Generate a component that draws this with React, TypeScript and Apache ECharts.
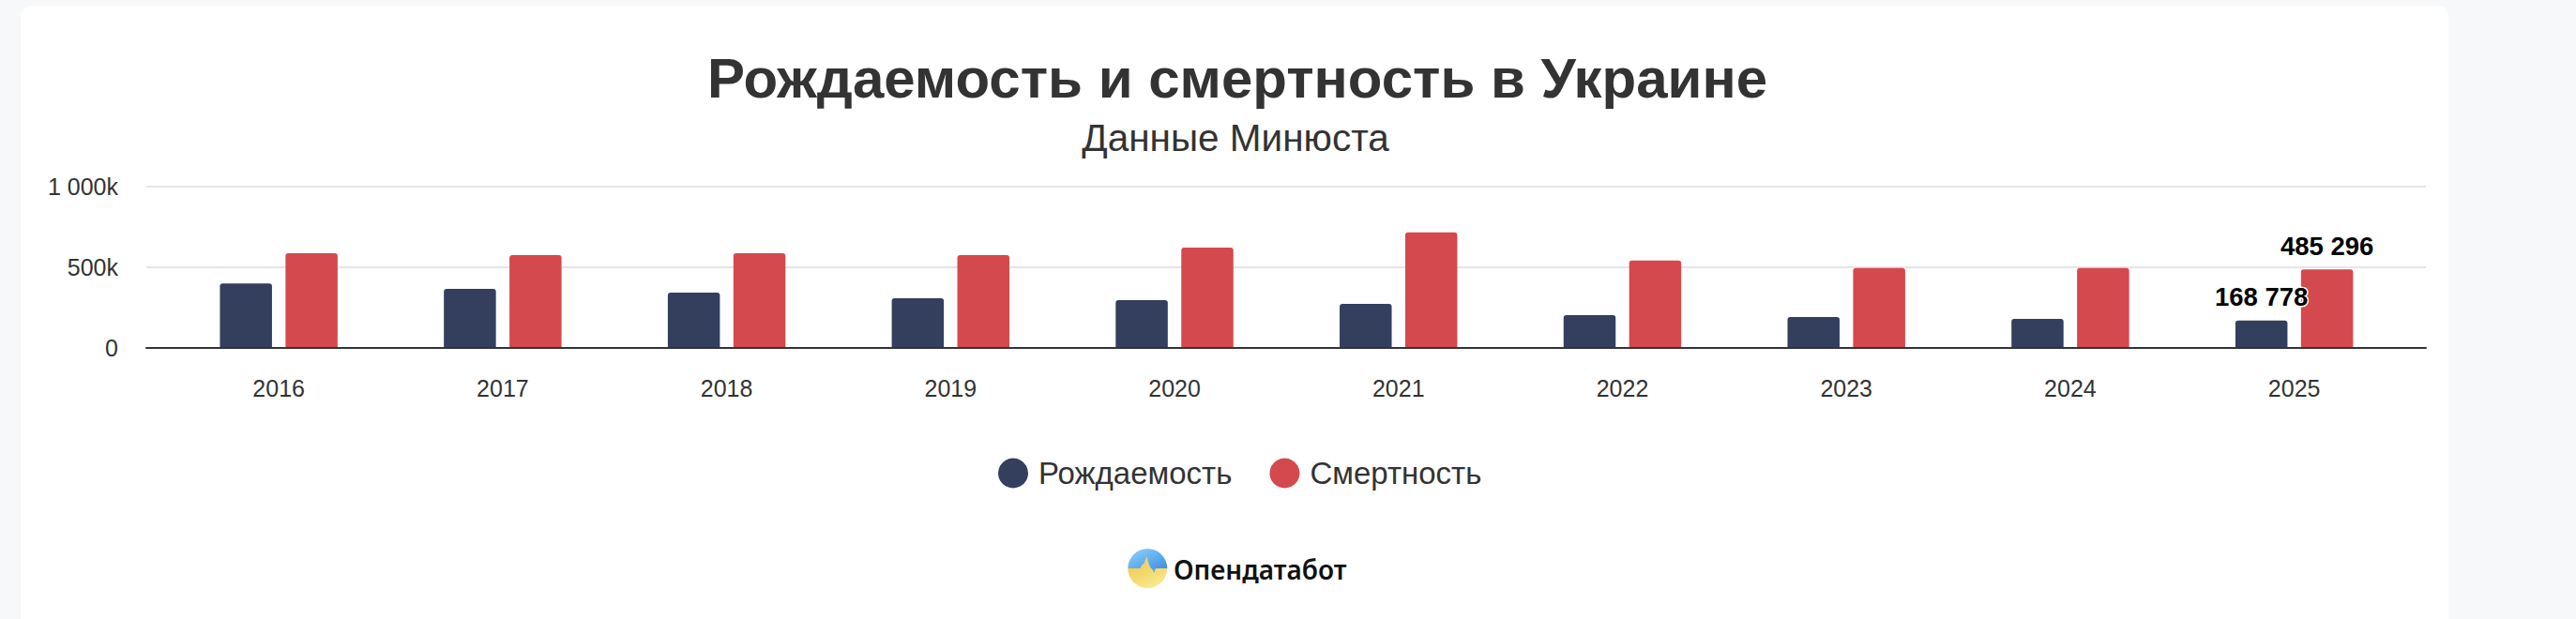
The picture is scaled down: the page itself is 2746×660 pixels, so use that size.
import React, { useEffect, useRef } from 'react';
import * as echarts from 'echarts';

const categories = ['2016', '2017', '2018', '2019', '2020', '2021', '2022', '2023', '2024', '2025'];
const births = [398000, 365000, 342000, 307000, 295000, 272000, 202000, 190000, 179000, 168778];
const deaths = [586000, 575000, 586000, 575000, 621000, 716000, 542000, 495000, 495000, 485296];
const yTickLabels = ['0', '500k', '1 000k'];
const seriesNames = ['Рождаемость', 'Смертность'];
const titleText = 'Рождаемость и смертность в Украине';
const subtitleText = 'Данные Минюста';
const brandText = 'Опендатабот';
const labelledIndex = 9;

const NAVY = '#333f5d';
const RED = '#d4494e';
const FONT = '"Liberation Sans", Arial, Helvetica, sans-serif';

const W = 2746;
const H = 660;

function fmtSpace(v: number): string {
  return String(Math.round(v)).replace(/\B(?=(\d{3})+(?!\d))/g, ' ');
}

function withLabel(arr: number[]) {
  return arr.map((v, i) => (i === labelledIndex ? { value: v, label: { show: true } } : v));
}

export default function App() {
  const ref = useRef<HTMLDivElement>(null);

  useEffect(() => {
    document.body.style.margin = '0';
    if (!ref.current) return;
    const chart = echarts.init(ref.current, undefined, { renderer: 'svg', width: W, height: H });

    const plotTop = 199;
    const plotBottom = H - 370.7;
    const barLabel = {
      show: false,
      position: 'top',
      distance: 11,
      formatter: (p: any) => fmtSpace(p.value),
      fontFamily: FONT,
      fontSize: 27.5,
      fontWeight: 'bold',
      color: '#000',
      textBorderColor: '#fff',
      textBorderWidth: 3,
    };

    const cx = 1223.3;
    const cy = 606;
    const r = 21;

    const option: any = {
      animation: false,
      backgroundColor: 'transparent',
      grid: [
        { left: 177.8, right: W - 2565, top: plotTop, bottom: plotBottom },
        { left: 156, right: W - 2586, top: plotTop, bottom: plotBottom },
      ],
      xAxis: [
        {
          type: 'category',
          gridIndex: 0,
          data: categories,
          axisLine: { show: false },
          axisTick: { show: false },
          axisLabel: { fontFamily: FONT, fontSize: 25, color: '#333', margin: 31 },
          splitLine: { show: false },
        },
        {
          type: 'value',
          gridIndex: 1,
          min: 0,
          max: 1,
          z: 3,
          axisLine: { show: true, onZero: false, lineStyle: { color: '#333', width: 2 } },
          axisTick: { show: false },
          axisLabel: { show: false },
          splitLine: { show: false },
        },
      ],
      yAxis: [
        { type: 'value', gridIndex: 0, min: 0, max: 1000000, show: false, splitLine: { show: false } },
        {
          type: 'value',
          gridIndex: 1,
          min: 0,
          max: 1000000,
          interval: 500000,
          axisLine: { show: false },
          axisTick: { show: false },
          splitLine: { show: true, lineStyle: { color: '#e6e6e6', width: 2 } },
          axisLabel: {
            fontFamily: FONT,
            fontSize: 25,
            color: '#333',
            margin: 30,
            formatter: (v: number) => yTickLabels[Math.round(v / 500000)] ?? '',
          },
        },
      ],
      legend: {
        data: seriesNames,
        left: 1064,
        top: 488,
        padding: 0,
        icon: 'circle',
        itemWidth: 32,
        itemHeight: 32,
        itemGap: 40,
        textStyle: { fontFamily: FONT, fontSize: 33, color: '#333', padding: [0, 0, 0, 6] },
      },
      series: [
        {
          name: seriesNames[0],
          type: 'bar',
          xAxisIndex: 0,
          yAxisIndex: 0,
          data: withLabel(births),
          barWidth: 55.5,
          barGap: '26%',
          itemStyle: { color: NAVY, borderRadius: [3, 3, 0, 0] },
          label: barLabel,
        },
        {
          name: seriesNames[1],
          type: 'bar',
          xAxisIndex: 0,
          yAxisIndex: 0,
          data: withLabel(deaths),
          barWidth: 55.5,
          barGap: '26%',
          itemStyle: { color: RED, borderRadius: [3, 3, 0, 0] },
          label: barLabel,
        },
      ],
      graphic: [
        {
          type: 'text',
          x: 1319,
          y: 83.5,
          style: {
            text: titleText,
            fontFamily: FONT,
            fontSize: 60,
            fontWeight: 'bold',
            fill: '#333',
            align: 'center',
            verticalAlign: 'middle',
          },
        },
        {
          type: 'text',
          x: 1317,
          y: 147,
          style: {
            text: subtitleText,
            fontFamily: FONT,
            fontSize: 40.5,
            fill: '#333',
            align: 'center',
            verticalAlign: 'middle',
          },
        },
        {
          type: 'sector',
          shape: { cx, cy, r, r0: 0, startAngle: Math.PI, endAngle: Math.PI * 2, clockwise: true },
          style: {
            fill: {
              type: 'linear', x: 0, y: 0, x2: 1, y2: 1,
              colorStops: [
                { offset: 0, color: '#8fd6f9' },
                { offset: 1, color: '#3f8ee6' },
              ],
            },
          },
        },
        {
          type: 'sector',
          shape: { cx, cy, r, r0: 0, startAngle: 0, endAngle: Math.PI, clockwise: true },
          style: {
            fill: {
              type: 'linear', x: 0, y: 0, x2: 1, y2: 1,
              colorStops: [
                { offset: 0, color: '#efcd55' },
                { offset: 1, color: '#fbef9c' },
              ],
            },
          },
        },
        {
          type: 'polygon',
          shape: {
            points: [
              [1215.5, cy], [1217.5, cy - 4], [1219.5, cy - 5], [1221, cy - 9],
              [1222.6, cy - 13], [1224.2, cy - 6], [1225.5, cy - 3], [1227, cy],
            ],
          },
          style: { fill: '#f0d467' },
        },
        {
          type: 'polygon',
          shape: {
            points: [[1227, cy - 0.5], [1229, cy + 2], [1230.3, cy + 5], [1231.5, cy + 1], [1233, cy - 0.5]],
          },
          style: { fill: '#56a3ea' },
        },
        {
          type: 'text',
          x: 1251,
          y: 606.5,
          style: {
            text: brandText,
            fontFamily: '"Noto Sans", "Open Sans", sans-serif',
            fontSize: 28,
            fontWeight: 600,
            fill: '#111',
            align: 'left',
            verticalAlign: 'middle',
          },
        },
      ],
    };

    chart.setOption(option);
    return () => {
      chart.dispose();
    };
  }, []);

  return (
    <div style={{ position: 'relative', width: W, height: H, overflow: 'hidden', background: '#f7f8fa' }}>
      <div
        style={{
          position: 'absolute',
          left: 22,
          top: 6,
          width: 2588,
          height: 720,
          background: '#ffffff',
          borderRadius: 12,
        }}
      />
      <div ref={ref} style={{ position: 'absolute', left: 0, top: 0, width: W, height: H }} />
    </div>
  );
}
